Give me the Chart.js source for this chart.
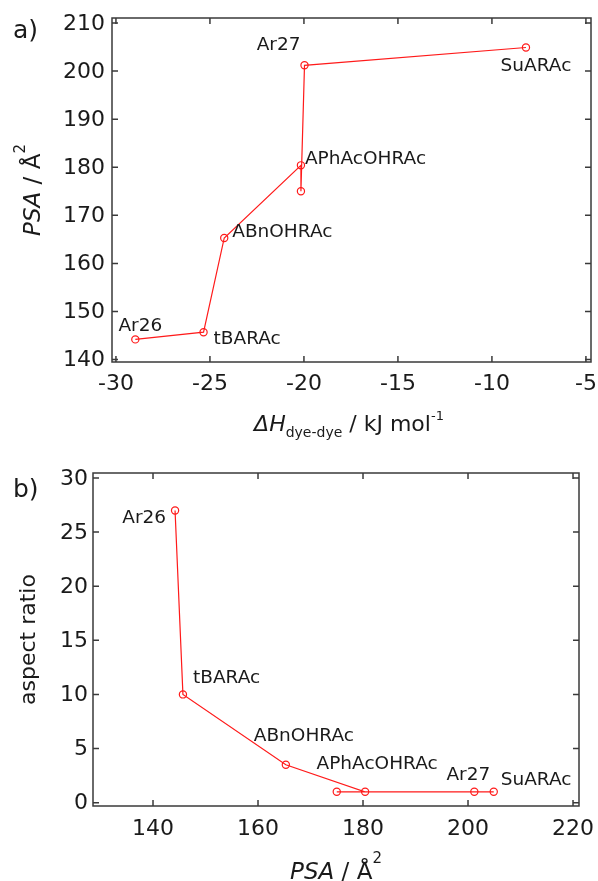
<!DOCTYPE html>
<html><head><meta charset="utf-8">
<script src="https://cdn.jsdelivr.net/npm/chart.js@4"></script>
<style>
html,body{margin:0;padding:0;background:#fff;width:598px;height:881px;overflow:hidden}
.box{position:absolute;left:0;width:598px}
canvas{display:block}
</style></head><body>
<div class="box" style="top:0;height:440px"><canvas id="c1" width="598" height="440"></canvas></div>
<div class="box" style="top:440px;height:441px"><canvas id="c2" width="598" height="441"></canvas></div>
<script>
// ---- data ----
const names  = ["Ar26", "tBARAc", "ABnOHRAc", "APhAcOHRAc", "", "Ar27", "SuARAc"];
const dH     = [-28.97, -25.34, -24.24, -20.16, -20.16, -19.97, -8.19];
const psa    = [144.2, 145.7, 165.3, 180.4, 175.0, 201.2, 204.9];
const aspect = [27, 10, 3.5, 1, 1, 1, 1];
const xTicksA = [-30, -25, -20, -15, -10, -5];
const yTicksA = [140, 150, 160, 170, 180, 190, 200, 210];
const xTicksB = [140, 160, 180, 200, 220];
const yTicksB = [0, 5, 10, 15, 20, 25, 30];

// ---- styling / layout ----
const RED = '#ff1a1a';
const AX = '#3a3a3a';
const TXT = '#1a1a1a';
const FONT = 'DejaVu Sans';
const TL = 6;
// label offsets (px) relative to point: [dx, dy, align]
const labelPosA = [[5,-13,'center'],[10,7,'left'],[8,-6,'left'],[4,-6,'left'],null,[-4,-20,'right'],[10,19,'center']];
const labelPosB = [[-9,8,'right'],[10,-16,'left'],[18,-29,'center'],[12,-28,'center'],null,[-6,-17,'center'],[7,-12,'left']];

function rich(ctx, parts, x, y, align) {
  let w = 0;
  parts.forEach(p => { ctx.font = p.f; p.w = ctx.measureText(p.t).width; w += p.w; });
  let cx = align === 'center' ? x - w / 2 : align === 'right' ? x - w : x;
  ctx.textAlign = 'left';
  parts.forEach(p => { ctx.font = p.f; ctx.fillText(p.t, cx, y + (p.dy || 0)); cx += p.w; });
}

function makeDeco(cfg) {
  return {
    id: 'deco',
    afterDraw(chart) {
      const ctx = chart.ctx, a = chart.chartArea, x = chart.scales.x, y = chart.scales.y;
      ctx.save();
      ctx.strokeStyle = AX; ctx.lineWidth = 1.5;
      ctx.strokeRect(a.left, a.top, a.right - a.left, a.bottom - a.top);
      ctx.beginPath();
      cfg.xTicks.forEach(v => {
        const px = x.getPixelForValue(v);
        ctx.moveTo(px, a.bottom); ctx.lineTo(px, a.bottom - TL);
        ctx.moveTo(px, a.top); ctx.lineTo(px, a.top + TL);
      });
      cfg.yTicks.forEach(v => {
        const py = y.getPixelForValue(v);
        ctx.moveTo(a.left, py); ctx.lineTo(a.left + TL, py);
        ctx.moveTo(a.right, py); ctx.lineTo(a.right - TL, py);
      });
      ctx.stroke();
      ctx.fillStyle = TXT;
      ctx.font = cfg.tickFont;
      ctx.textAlign = 'center'; ctx.textBaseline = 'alphabetic';
      cfg.xTicks.forEach(v => ctx.fillText(String(v), x.getPixelForValue(v), a.bottom + cfg.xLabGap));
      ctx.textAlign = 'right'; ctx.textBaseline = 'middle';
      cfg.yTicks.forEach(v => ctx.fillText(String(v), a.left - cfg.yLabGap, y.getPixelForValue(v) + 1));
      // point labels
      ctx.font = cfg.labFont; ctx.textBaseline = 'middle';
      cfg.names.forEach((n, i) => {
        const lp = cfg.labelPos[i];
        if (!n || !lp) return;
        const px = x.getPixelForValue(cfg.xs[i]), py = y.getPixelForValue(cfg.ys[i]);
        ctx.textAlign = lp[2];
        ctx.fillText(n, px + lp[0], py + lp[1]);
      });
      ctx.textBaseline = 'alphabetic';
      // panel label
      ctx.font = '25px ' + FONT; ctx.textAlign = 'left';
      ctx.fillText(cfg.panel[0], cfg.panel[1], cfg.panel[2]);
      // x title
      rich(ctx, cfg.xTitle, cfg.xTitleX, cfg.xTitleY, 'center');
      // y title
      ctx.save();
      ctx.translate(cfg.yTitleX, (a.top + a.bottom) / 2);
      ctx.rotate(-Math.PI / 2);
      rich(ctx, cfg.yTitle, 0, 0, 'center');
      ctx.restore();
      ctx.restore();
    }
  };
}

function makeChart(id, xs, ys, padding, xr, yr, cfg) {
  cfg.xs = xs; cfg.ys = ys;
  return new Chart(document.getElementById(id), {
    type: 'scatter',
    data: { datasets: [{
      data: xs.map((v, i) => ({ x: v, y: ys[i] })),
      showLine: true, borderColor: RED, borderWidth: 1.2, tension: 0,
      pointRadius: 3.6, pointBorderWidth: 1.2, pointBorderColor: RED,
      pointBackgroundColor: 'rgba(0,0,0,0)'
    }] },
    options: {
      responsive: false, animation: false, devicePixelRatio: 1,
      layout: { padding: padding },
      plugins: { legend: { display: false }, tooltip: { enabled: false } },
      scales: {
        x: { type: 'linear', display: false, min: xr[0], max: xr[1] },
        y: { type: 'linear', display: false, min: yr[0], max: yr[1] }
      }
    },
    plugins: [makeDeco(cfg)]
  });
}

const tickFont = '22px ' + FONT;
const labFont = '18.5px ' + FONT;

makeChart('c1', dH, psa, { left: 112, top: 18, right: 7, bottom: 78 }, [-30.21, -4.73], [139.5, 211.04], {
  xTicks: xTicksA, yTicks: yTicksA, tickFont, labFont, xLabGap: 28, yLabGap: 7,
  names, labelPos: labelPosA, panel: ['a)', 13, 38],
  xTitleX: 349, xTitleY: 431, yTitleX: 40,
  xTitle: [
    { t: 'ΔH', f: 'italic 22px ' + FONT },
    { t: 'dye-dye', f: '14px ' + FONT, dy: 6 },
    { t: ' / kJ mol', f: '22px ' + FONT },
    { t: '-1', f: '13px ' + FONT, dy: -11 }
  ],
  yTitle: [
    { t: 'PSA', f: 'italic 23px ' + FONT },
    { t: ' / Å', f: '23px ' + FONT },
    { t: '2', f: '15px ' + FONT, dy: -15 }
  ]
});

makeChart('c2', psa, aspect, { left: 93, top: 33, right: 19, bottom: 75 }, [128.57, 221.14], [-0.31, 30.46], {
  xTicks: xTicksB, yTicks: yTicksB, tickFont, labFont, xLabGap: 29, yLabGap: 5,
  names, labelPos: labelPosB, panel: ['b)', 13, 57],
  xTitleX: 336, xTitleY: 439, yTitleX: 35,
  xTitle: [
    { t: 'PSA', f: 'italic 23px ' + FONT },
    { t: ' / Å', f: '23px ' + FONT },
    { t: '2', f: '15px ' + FONT, dy: -16 }
  ],
  yTitle: [
    { t: 'aspect ratio', f: '22px ' + FONT }
  ]
});
</script>
</body></html>
